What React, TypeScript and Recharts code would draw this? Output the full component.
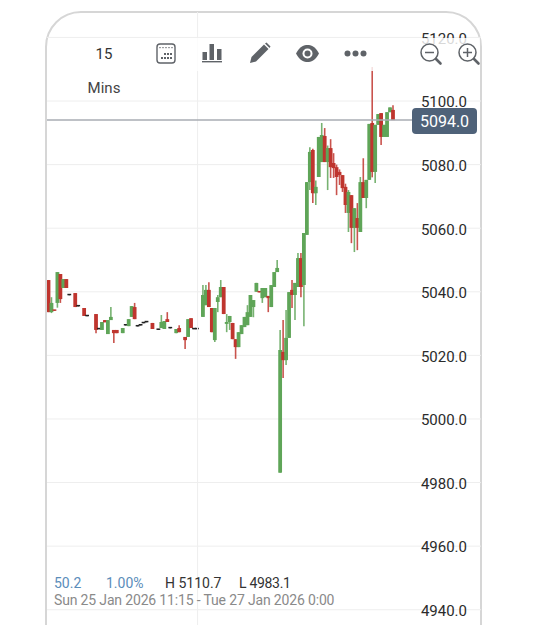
import { Bar, CartesianGrid, ComposedChart, Rectangle, ReferenceLine, XAxis, YAxis } from 'recharts';

// 15 minute candles, slot = position on the time axis
const slots = [
  0, 1, 2, 3, 4, 5, 6, 7, 9, 10,
  12, 13, 16, 17, 18, 19, 20, 21, 22, 23,
  25, 26, 27, 28, 29, 30, 31, 32, 33, 35,
  37, 38, 39, 40, 41, 43, 44, 46, 47, 48,
  49, 50, 52, 53, 54, 55, 56, 57, 58, 59,
  60, 61, 62, 63, 64, 65, 66, 67, 68, 69,
  70, 71, 72, 73, 74, 75, 76, 77, 78, 79,
  80, 81, 82, 83, 84, 85, 86, 87, 88, 89,
  90, 91, 92, 93, 94, 95, 96, 97, 98, 99,
  100, 101, 102, 103, 104, 105, 106, 107, 108, 109,
  110, 111, 112, 113, 114, 115, 116,
];
const opens = [
  5043.7, 5033.6, 5034.3, 5036.5, 5045.6, 5041.2, 5044.0, 5039.1, 5039.6, 5035.6,
  5034.9, 5032.5, 5033.0, 5028.4, 5028.0, 5031.1, 5026.7, 5031.1, 5028.0, 5028.0,
  5027.0, 5029.6, 5029.2, 5032.1, 5035.2, 5029.3, 5029.6, 5030.3, 5030.6, 5030.2,
  5028.2, 5028.6, 5028.3, 5031.4, 5028.7, 5027.0, 5028.6, 5025.8, 5025.8, 5031.7,
  5028.4, 5028.4, 5032.1, 5035.8, 5040.6, 5034.9, 5024.8, 5036.8, 5038.3, 5041.5,
  5029.9, 5030.5, 5030.2, 5025.1, 5022.6, 5026.7, 5028.9, 5029.5, 5032.1, 5035.2,
  5040.0, 5040.2, 5038.0, 5038.3, 5038.7, 5035.2, 5041.5, 5046.2, 4983.1, 5021.1,
  5018.5, 5025.5, 5040.6, 5039.0, 5041.5, 5050.6, 5042.1, 5057.9, 5074.5, 5084.6,
  5071.0, 5076.1, 5080.8, 5089.0, 5080.8, 5085.2, 5080.5, 5079.2, 5077.7, 5076.7,
  5073.0, 5064.8, 5070.4, 5060.1, 5063.2, 5058.8, 5074.5, 5069.5, 5075.2, 5093.1,
  5077.7, 5092.5, 5096.2, 5088.7, 5088.7, 5096.5, 5097.2,
];
const closes = [
  5033.6, 5036.5, 5034.0, 5046.2, 5037.7, 5044.0, 5041.2, 5038.9, 5035.2, 5035.4,
  5032.4, 5032.3, 5028.0, 5028.2, 5030.5, 5030.4, 5031.1, 5032.1, 5027.0, 5027.0,
  5028.6, 5029.4, 5031.4, 5035.5, 5031.4, 5029.1, 5029.4, 5030.1, 5030.4, 5028.3,
  5028.0, 5030.5, 5030.8, 5030.5, 5028.5, 5028.3, 5027.3, 5024.8, 5031.4, 5028.6,
  5028.2, 5028.2, 5039.0, 5040.6, 5035.2, 5027.3, 5034.9, 5038.3, 5041.5, 5033.0,
  5030.5, 5032.4, 5025.1, 5022.6, 5027.3, 5029.5, 5032.1, 5033.6, 5039.0, 5037.4,
  5042.8, 5039.8, 5041.2, 5041.2, 5038.0, 5042.1, 5046.2, 5047.5, 5021.7, 5018.5,
  5025.5, 5039.9, 5039.0, 5042.8, 5050.6, 5041.5, 5058.5, 5074.5, 5084.0, 5071.0,
  5073.0, 5088.7, 5089.3, 5080.8, 5085.2, 5079.2, 5078.9, 5076.1, 5076.7, 5072.6,
  5067.3, 5071.4, 5060.1, 5066.3, 5060.1, 5074.5, 5069.5, 5075.2, 5092.8, 5077.7,
  5092.5, 5095.9, 5088.7, 5092.5, 5096.5, 5098.0, 5094.0,
];
const highs = [
  5043.7, 5038.3, 5034.3, 5046.2, 5045.6, 5044.0, 5044.0, 5039.1, 5039.6, 5035.6,
  5034.9, 5032.5, 5033.0, 5028.4, 5030.5, 5031.1, 5031.1, 5035.2, 5028.0, 5028.0,
  5028.6, 5029.6, 5031.4, 5035.5, 5036.5, 5029.3, 5029.6, 5030.3, 5030.6, 5030.2,
  5028.2, 5032.7, 5030.8, 5033.6, 5028.7, 5028.3, 5029.5, 5025.8, 5031.4, 5031.7,
  5028.4, 5028.4, 5042.1, 5042.1, 5043.0, 5034.9, 5034.9, 5039.0, 5043.7, 5041.5,
  5033.0, 5032.4, 5030.2, 5025.1, 5027.3, 5029.5, 5032.1, 5035.8, 5039.0, 5037.4,
  5042.8, 5040.2, 5041.2, 5041.2, 5038.7, 5042.1, 5046.2, 5050.0, 5028.0, 5031.1,
  5034.3, 5039.9, 5043.7, 5042.8, 5052.2, 5052.2, 5058.5, 5074.5, 5085.5, 5085.0,
  5075.0, 5088.7, 5093.1, 5091.5, 5086.0, 5088.0, 5083.6, 5080.0, 5078.5, 5076.7,
  5074.0, 5072.0, 5070.4, 5066.3, 5067.9, 5076.1, 5082.0, 5075.2, 5092.8, 5110.7,
  5092.5, 5095.9, 5096.2, 5092.5, 5096.5, 5098.0, 5098.7,
];
const lows = [
  5033.6, 5033.3, 5034.0, 5035.0, 5036.5, 5041.2, 5041.2, 5038.9, 5035.2, 5035.4,
  5032.4, 5032.3, 5027.0, 5028.2, 5028.0, 5030.4, 5026.7, 5031.1, 5023.9, 5027.0,
  5027.0, 5029.4, 5029.2, 5032.1, 5031.4, 5029.1, 5029.4, 5030.1, 5030.4, 5028.3,
  5028.0, 5028.6, 5028.3, 5030.5, 5028.5, 5027.0, 5027.3, 5022.0, 5025.8, 5028.6,
  5028.2, 5028.2, 5032.1, 5035.8, 5035.2, 5027.3, 5024.2, 5033.6, 5038.3, 5033.0,
  5027.3, 5028.0, 5025.1, 5018.9, 5022.6, 5026.7, 5028.9, 5029.5, 5032.1, 5032.0,
  5040.0, 5039.8, 5036.5, 5038.3, 5033.6, 5035.2, 5041.5, 5046.2, 4983.1, 5012.9,
  5017.0, 5025.5, 5034.9, 5031.1, 5041.5, 5038.3, 5029.2, 5057.9, 5072.0, 5067.9,
  5067.3, 5076.1, 5080.8, 5080.8, 5072.0, 5075.8, 5075.8, 5070.4, 5073.6, 5071.4,
  5064.8, 5058.8, 5055.3, 5052.5, 5053.1, 5058.8, 5069.5, 5066.3, 5075.2, 5076.0,
  5074.2, 5092.5, 5086.2, 5088.7, 5088.7, 5096.5, 5094.0,
];
const yTicks = [4940, 4960, 4980, 5000, 5020, 5040, 5060, 5080, 5100, 5120];
const lastPrice = 5094;

const GREEN = '#5fa558';
const RED = '#bf352e';
const FONT = 'Roboto, sans-serif';
const ICON = '#5f6368';

const candles = slots.map((slot, i) => ({
  slot,
  wick: [lows[i], highs[i]],
  body: [Math.min(opens[i], closes[i]), Math.max(opens[i], closes[i])],
  color: Math.abs(closes[i] - opens[i]) < 0.3 ? '#222' : closes[i] > opens[i] ? GREEN : RED,
}));

const xDomain = [-0.5, 145.64];

// the bar keeps its place and height from the scales, only its width is set here
const candleShape = (w: number, opacity: number) => (p: any) => (
  <Rectangle
    x={p.x + p.width / 2 - w / 2}
    y={p.y}
    width={w}
    height={p.height}
    fill={p.payload.color}
    fillOpacity={opacity}
  />
);

function ZoomIcon({ plus }: { plus?: boolean }) {
  return (
    <svg width="24" height="24" viewBox="0 0 24 24" style={{ display: 'block' }}>
      <circle cx="10.5" cy="10.5" r="8.5" fill="none" stroke={ICON} strokeWidth="1.5" />
      <line x1="6" y1="10.5" x2="15" y2="10.5" stroke={ICON} strokeWidth="1.5" />
      {plus && <line x1="10.5" y1="6" x2="10.5" y2="15" stroke={ICON} strokeWidth="1.5" />}
      <line x1="17" y1="17" x2="21.5" y2="21.5" stroke={ICON} strokeWidth="2.6" strokeLinecap="round" />
    </svg>
  );
}

function Toolbar() {
  const item = (x: number, y: number, node: any) => (
    <div style={{ position: 'absolute', left: x, top: y }}>{node}</div>
  );
  return (
    <div style={{ position: 'absolute', left: 48, top: 38, width: 432, height: 33, background: 'rgba(255,255,255,0.82)' }}>
      <div style={{ position: 'absolute', left: 36, width: 40, top: 7, textAlign: 'center', fontSize: 15, color: '#333' }}>15</div>
      {item(108, 5, (
        <svg width="20" height="21" viewBox="0 0 20 21" style={{ display: 'block' }}>
          <rect x="1" y="1" width="18" height="19" rx="3" fill="none" stroke={ICON} strokeWidth="1.4" />
          {[4, 7, 10, 13, 16].map((x) => <rect key={x} x={x - 0.6} y="4" width="1.2" height="1.2" fill={ICON} />)}
          {[8, 11, 14].map((x) => <rect key={x} x={x} y="10" width="2" height="2" fill={ICON} />)}
          {[5, 8, 11, 14].map((x) => <rect key={x} x={x} y="14" width="2" height="2" fill={ICON} />)}
        </svg>
      ))}
      {item(154, 5, (
        <svg width="20" height="20" viewBox="0 0 20 20" style={{ display: 'block' }}>
          <rect x="0.5" y="9" width="4.5" height="8" fill={ICON} />
          <rect x="7.5" y="1" width="4.5" height="16" fill={ICON} />
          <rect x="15" y="6" width="4.5" height="11" fill={ICON} />
          <rect x="0" y="18" width="20" height="1.4" fill={ICON} />
        </svg>
      ))}
      {item(201, 4, (
        <svg width="22" height="22" viewBox="0 0 22 22" style={{ display: 'block' }}>
          <path d="M1 21 L2.5 15 L15 2.5 L19.5 7 L7 19.5 Z" fill={ICON} />
          <path d="M16 1.5 L17.5 0.5 L21.5 4.5 L20.5 6 Z" fill={ICON} />
        </svg>
      ))}
      {item(248, 7, (
        <svg width="23" height="17" viewBox="0 0 23 17" style={{ display: 'block' }}>
          <path d="M0 8.5 C4 1 8 0 11.5 0 C15 0 19 1 23 8.5 C19 16 15 17 11.5 17 C8 17 4 16 0 8.5 Z" fill={ICON} />
          <circle cx="11.5" cy="8.5" r="5" fill="#fff" />
          <circle cx="11.5" cy="8.5" r="3" fill={ICON} />
        </svg>
      ))}
      {item(296, 12, (
        <svg width="23" height="7" viewBox="0 0 23 7" style={{ display: 'block' }}>
          <circle cx="3.5" cy="3.5" r="3" fill={ICON} />
          <circle cx="11.5" cy="3.5" r="3" fill={ICON} />
          <circle cx="19.5" cy="3.5" r="3" fill={ICON} />
        </svg>
      ))}
      {item(371, 4, <ZoomIcon />)}
      {item(409, 4, <ZoomIcon plus />)}
    </div>
  );
}

export default function App() {
  return (
    <div style={{ position: 'absolute', left: 0, top: 0, width: 556, height: 625, overflow: 'hidden', background: '#fff', fontFamily: FONT }}>
      <div style={{ position: 'absolute', left: 45, top: 11, width: 433, height: 700, border: '2px solid #d6d6d6', borderRadius: 36 }} />
      <div style={{ position: 'absolute', left: 47, top: 12 }}>
        <ComposedChart width={434} height={613} data={candles} margin={{ top: 0, right: 0, bottom: 0, left: 0 }} barGap={0}>
          <CartesianGrid horizontal vertical={false} stroke="#eeeeee" syncWithTicks xAxisId="wick" />
          <XAxis xAxisId="wick" dataKey="slot" type="number" domain={xDomain} allowDataOverflow hide />
          <XAxis xAxisId="body" dataKey="slot" type="number" domain={xDomain} allowDataOverflow hide />
          <YAxis
            orientation="right"
            mirror
            width={60}
            domain={[4935.2, 5128]}
            allowDataOverflow
            ticks={yTicks}
            tickFormatter={(v: number) => v.toFixed(1)}
            axisLine={false}
            tickLine={false}
            tickMargin={8}
            dy={1}
            tick={{ fill: '#2b2b2b', fontSize: 15, fontFamily: FONT }}
            interval={0}
          />
          <ReferenceLine xAxisId="wick" x={50.2} stroke="#eeeeee" />
          <ReferenceLine
            xAxisId="wick"
            segment={[{ x: xDomain[0], y: lastPrice }, { x: 123, y: lastPrice }]}
            stroke="#a8acb3"
            strokeWidth={1.5}
          />
          <Bar xAxisId="wick" dataKey="wick" barSize={1} isAnimationActive={false} minPointSize={1} shape={candleShape(1.6, 0.85)} />
          <Bar xAxisId="body" dataKey="body" barSize={1} isAnimationActive={false} minPointSize={1.5} shape={candleShape(3.8, 1)} />
        </ComposedChart>
      </div>
      <Toolbar />
      <div style={{ position: 'absolute', left: 84, width: 40, top: 79, textAlign: 'center', fontSize: 15, color: '#444' }}>Mins</div>
      <div style={{ position: 'absolute', left: 412, top: 108, width: 65, height: 26, lineHeight: '27px', background: '#4f6279', borderRadius: 4, color: '#fff', fontSize: 16, textAlign: 'center' }}>
        {lastPrice.toFixed(1)}
      </div>
      <div style={{ position: 'absolute', top: 575, left: 54, fontSize: 14, color: '#5b8dba' }}>50.2</div>
      <div style={{ position: 'absolute', top: 575, left: 106, fontSize: 14, color: '#5b8dba' }}>1.00%</div>
      <div style={{ position: 'absolute', top: 575, left: 165, fontSize: 14, color: '#333' }}>H 5110.7</div>
      <div style={{ position: 'absolute', top: 575, left: 239, fontSize: 14, letterSpacing: -0.3, color: '#333' }}>L 4983.1</div>
      <div style={{ position: 'absolute', top: 592, left: 54, fontSize: 14, letterSpacing: -0.16, color: '#8a8a8a', whiteSpace: 'nowrap' }}>
        Sun 25 Jan 2026 11:15 - Tue 27 Jan 2026 0:00
      </div>
    </div>
  );
}
